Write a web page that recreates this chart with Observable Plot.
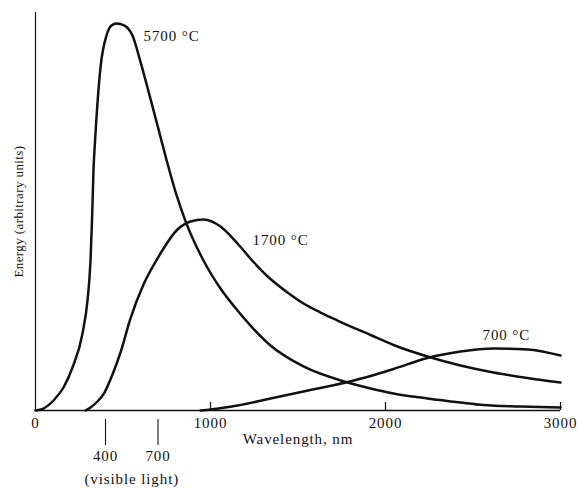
<!DOCTYPE html>
<html><head><meta charset="utf-8">
<script src="https://cdn.jsdelivr.net/npm/d3@7"></script>
<script src="https://cdn.jsdelivr.net/npm/@observablehq/plot@0.6"></script>
<style>
body{margin:0;background:#fff}
#chart svg text{letter-spacing:0.9px}
#chart svg .ylab text{letter-spacing:0.4px}
</style>
</head><body><div id="chart"></div>
<script>
const seriesNames = ["5700 °C", "1700 °C", "700 °C"];

const wl5700 = [0, 45.7, 102.9, 160, 211.4, 268.6, 297.1, 314.3, 322.9, 331.4, 342.9, 371.4, 405.7, 434.3, 462.9, 508.6, 554.3, 600, 657.1, 708.6, 754.3, 805.7, 857.1, 960, 1057.1, 1154.3, 1342.9, 1531.4, 1782.9, 1914.3, 2045.7, 2240, 2428.6, 2560, 2771.4, 3000];
const en5700 = [0, 0.5, 2.51, 5.78, 10.8, 19.35, 27.64, 37.69, 47.74, 60.3, 69.6, 86.18, 94.22, 96.73, 97.24, 96.73, 94.22, 87.59, 78.29, 69.7, 62.06, 54.15, 47.59, 37.69, 30.65, 25.13, 16.33, 11.06, 7.04, 5.53, 4.27, 3.02, 2.01, 1.38, 1.01, 0.75];

const wl1700 = [285.7, 314.3, 354.3, 394.3, 440, 485.7, 542.9, 617.1, 697.1, 811.4, 885.7, 960, 1057.1, 1154.3, 1245.7, 1342.9, 1440, 1531.4, 1628.6, 1725.7, 1914.3, 2045.7, 2240, 2428.6, 2617.1, 2811.4, 3000];
const en1700 = [0, 0.75, 2.26, 4.52, 9.05, 14.57, 23.12, 31.66, 38.19, 45.48, 47.49, 47.99, 46.23, 41.96, 37.31, 33.04, 29.65, 26.88, 24.62, 22.61, 18.97, 16.46, 13.57, 11.31, 9.55, 8.17, 7.04];

const wl700 = [942.9, 1000, 1154.3, 1342.9, 1531.4, 1782.9, 1914.3, 2045.7, 2240, 2428.6, 2617.1, 2811.4, 3000];
const en700 = [0, 0.25, 1.26, 3.02, 4.77, 7.16, 8.67, 10.43, 13.2, 14.82, 15.58, 15.33, 13.82];

const xTicks = [0, 1000, 2000, 3000];
const majorTicks = [1000, 2000, 3000];
const visibleTicks = [400, 700];
const visibleLabel = "(visible light)";
const xLabel = "Wavelength, nm";
const yLabel = "Energy (arbitrary units)";

const rows = [];
[[seriesNames[0], wl5700, en5700], [seriesNames[1], wl1700, en1700], [seriesNames[2], wl700, en700]]
  .forEach(([s, xs, ys]) => xs.forEach((x, i) => rows.push({series: s, wavelength: x, energy: ys[i]})));

const W = 577, H = 488, mT = 12, mB = 78, mL = 35, mR = 17;
const pxPerUnit = (H - mT - mB) / 100;
const ink = "#111";
const font = "'Liberation Serif', 'Times New Roman', serif";

const labelOffsets = {"5700 °C": [27, 13], "1700 °C": [49, 21], "700 °C": [-11, -13]};

const plot = Plot.plot({
  width: W, height: H, marginTop: mT, marginBottom: mB, marginLeft: mL, marginRight: mR,
  x: {domain: [0, 3000], axis: null},
  y: {domain: [0, 100], axis: null},
  style: {fontFamily: font, background: "#fff", color: ink},
  marks: [
    Plot.ruleY([0], {stroke: ink, strokeWidth: 1.4}),
    Plot.ruleX([0], {stroke: ink, strokeWidth: 1.2}),
    Plot.ruleX(majorTicks, {x: d => d, y1: 0, y2: 8 / pxPerUnit, stroke: ink, strokeWidth: 1.2}),
    Plot.text(xTicks, {x: d => d, y: 0, text: d => String(d), dy: 13, fontSize: 15, fill: ink}),
    Plot.ruleX(visibleTicks, {x: d => d, y1: -9 / pxPerUnit, y2: -35 / pxPerUnit, stroke: ink, strokeWidth: 1.1}),
    Plot.text(visibleTicks, {x: d => d, y: 0, text: d => String(d), dy: 46, fontSize: 15, fill: ink}),
    Plot.text([visibleLabel], {x: d3.mean(visibleTicks), y: 0, text: d => d, dy: 69, fontSize: 15, fill: ink}),
    Plot.text([xLabel], {frameAnchor: "bottom", text: d => d, dy: 29, lineAnchor: "middle", fontSize: 15, fill: ink}),
    Plot.text([yLabel], {frameAnchor: "left", text: d => d, rotate: -90, dx: -17, textAnchor: "middle", lineAnchor: "middle", fontSize: 13, fill: ink, className: "ylab"}),
    Plot.line(rows, {x: "wavelength", y: "energy", z: "series", curve: "monotone-x", stroke: ink, strokeWidth: 2.5, strokeLinejoin: "round"}),
    ...seriesNames.map(s => Plot.text(rows.filter(r => r.series === s), Plot.selectMaxY({
      x: "wavelength", y: "energy", text: "series", textAnchor: "start",
      dx: labelOffsets[s][0], dy: labelOffsets[s][1], fontSize: 15, fill: ink
    })))
  ]
});
document.getElementById("chart").appendChild(plot);
</script>
</body></html>
